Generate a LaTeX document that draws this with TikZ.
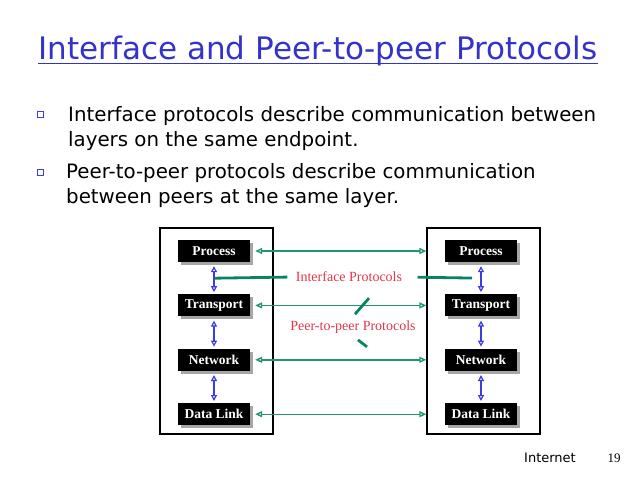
\documentclass[tikz,border=0pt]{standalone}
\usepackage{fontspec}
\setmainfont{DejaVu Sans}
\newfontfamily\labelfont{Liberation Serif}
\usetikzlibrary{arrows.meta, positioning, shadows, calc}
\definecolor{titleblue}{RGB}{51,51,204}
\definecolor{peergreen}{RGB}{30,150,110}
\definecolor{linkgreen}{RGB}{10,130,100}
\definecolor{labelred}{RGB}{225,55,75}
\definecolor{stackblue}{RGB}{60,60,225}

\begin{document}
\begin{tikzpicture}[x=1pt, y=-1pt,
    layer/.style={rectangle, fill=black, text=white, inner sep=2pt,
                  minimum width=72pt, minimum height=22pt,
                  font=\labelfont\bfseries\fontsize{13.5}{15}\selectfont,
                  drop shadow={fill=black!35, opacity=1, shadow xshift=3pt, shadow yshift=-3pt}},
    host/.style={rectangle, draw=black, line width=1.4pt, minimum width=113pt, minimum height=206pt},
    peer/.style={{Triangle[open, length=7pt, width=6pt]}-{Triangle[open, length=7pt, width=6pt]}, peergreen, line width=1.4pt},
    updown/.style={{Triangle[open, length=6pt, width=6pt]}-{Triangle[open, length=6pt, width=6pt]}, stackblue, line width=1.2pt},
    link/.style={linkgreen, line width=2.8pt},
    proto/.style={font=\labelfont\fontsize{14}{16}\selectfont, text=labelred},
    point/.style={align=left, font=\fontsize{19.8}{25.5}\selectfont, inner sep=0pt},
    bullet/.style={rectangle, draw=stackblue, fill=white, thick, minimum size=6pt, inner sep=0pt,
                   drop shadow={fill=black!40, opacity=1, shadow xshift=1pt, shadow yshift=-1pt}},
    node distance=32pt
  ]
    \useasboundingbox (0,0) rectangle (640,480);

    % title and bullets
    \node[text=titleblue, font=\fontsize{31}{36}\selectfont, anchor=base, inner sep=0pt] (title) at (318,59)
      {Interface and Peer-to-peer Protocols};
    \draw[titleblue, line width=1.3pt] ([yshift=-4.5pt]title.base west) -- ([yshift=-4.5pt]title.base east);

    \node[bullet] (b1) at (40,114) {};
    \node[point, anchor=north west] (p1) at (68,106)
      {Interface protocols describe communication between\\layers on the same endpoint.};
    \node[bullet] (b2) at (40,172) {};
    \node[point, anchor=north west] (p2) at (66,163)
      {Peer-to-peer protocols describe communication\\between peers at the same layer.};

    % the two endpoints
    \node[host] (lhost) at (216.5,331) {};
    \node[host] (rhost) at (483.5,331) {};

    \node[layer] (lproc) at (214,251) {Process};
    \node[layer, below=of lproc]  (ltrans) {Transport};
    \node[layer, below=of ltrans] (lnet)   {Network};
    \node[layer, below=of lnet]   (llink)  {Data Link};

    \node[layer] (rproc) at (481,251) {Process};
    \node[layer, below=of rproc]  (rtrans) {Transport};
    \node[layer, below=of rtrans] (rnet)   {Network};
    \node[layer, below=of rnet]   (rlink)  {Data Link};

    % interface arrows
    \foreach \a/\b in {lproc/ltrans, ltrans/lnet, lnet/llink, rproc/rtrans, rtrans/rnet, rnet/rlink}
      \draw[updown, shorten <=4pt, shorten >=2pt] (\a.south) -- (\b.north);

    % peer arrows
    \foreach \l/\r in {lproc/rproc, ltrans/rtrans, lnet/rnet, llink/rlink}
      \draw[peer] ([xshift=5pt]\l.east) -- (\r -| rhost.west);

    % labels
    \node[proto] (iface) at (349,277) {Interface Protocols};
    \node[proto] (ptop) at (353,327) {Peer-to-peer Protocols};

    \coordinate (lmid) at ($(lproc.south)!0.5!(ltrans.north)$);
    \coordinate (rmid) at ($(rproc.south)!0.5!(rtrans.north)$);
    \draw[link, shorten >=5pt] (lmid) -- (iface.west);
    \draw[link, shorten <=12pt, shorten >=9pt] (iface.east) -- (rmid);
    \draw[link] ([xshift=2pt, yshift=3pt]ptop.north) -- ++(14,-16);
    \draw[link] ([xshift=5pt, yshift=-3pt]ptop.south) -- ++(9,7);

    % footer
    \node[font=\fontsize{13}{15}\selectfont] (foot) at (550,458) {Internet};
    \node[font=\labelfont\fontsize{13}{15}\selectfont] (page) at (614,458) {19};
  \end{tikzpicture}
\end{document}
